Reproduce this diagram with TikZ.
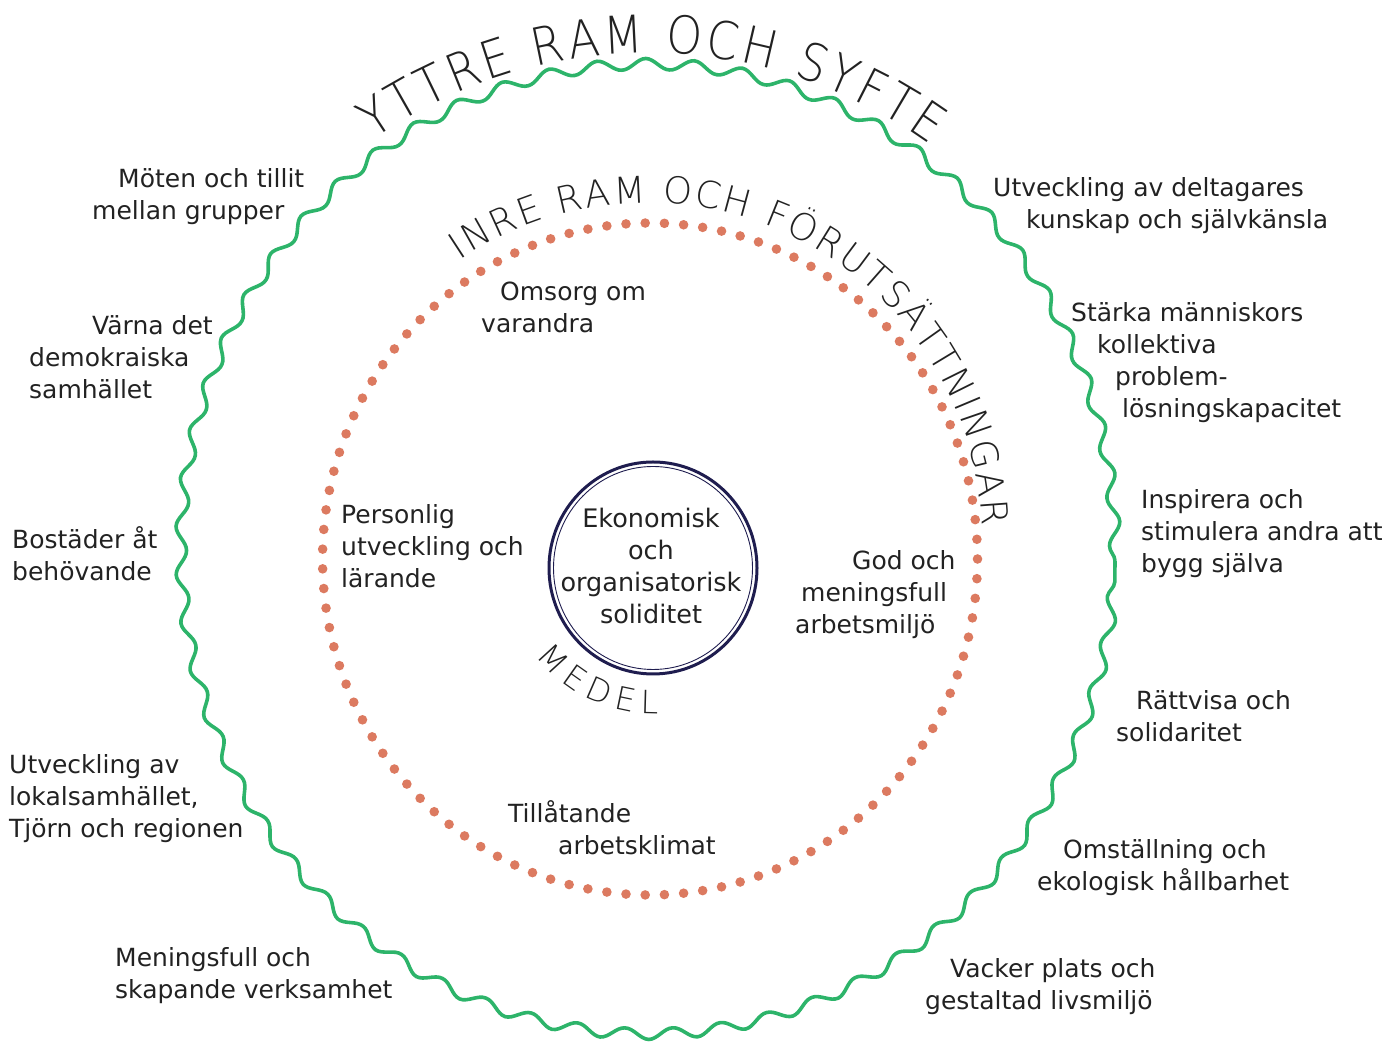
\documentclass[tikz,border=0pt]{standalone}
\usepackage{fontspec}
\setmainfont{DejaVu Sans}
\IfFontExistsTF{DejaVu Sans ExtraLight}{%
  \newfontfamily\thinfont{DejaVu Sans ExtraLight}%
  \newfontfamily\titlefont{DejaVu Sans ExtraLight}[FakeStretch=0.88]}{%
  \newfontfamily\thinfont{DejaVu Sans}%
  \newfontfamily\titlefont{DejaVu Sans}[FakeStretch=0.88]}
\usetikzlibrary{decorations.pathmorphing,decorations.text}
\definecolor{wavegreen}{HTML}{2DB46A}
\definecolor{dotorange}{HTML}{DC7A60}
\definecolor{navy}{HTML}{1F1D4F}
\definecolor{ink}{HTML}{222222}
\begin{document}
\begin{tikzpicture}[x=1pt,y=1pt,
  lbl/.style={anchor=base west, inner sep=0pt, text=ink, font=\fontsize{25}{32}\selectfont},
  clbl/.style={anchor=base, inner sep=0pt, text=ink, font=\fontsize{25.5}{32}\selectfont},
  arctext/.style={decorate, decoration={text along path, text color=ink, text align={fit to path}, text={#1}}}
]
\useasboundingbox (0,0) rectangle (1395,1043);
% outer wavy ring
\draw[wavegreen, line width=3.6pt, decorate, decoration={snake, segment length=48.2pt, amplitude=5.5pt}]
  (648,482) ellipse [x radius=467, y radius=485];
% dotted ring
\foreach \i in {0,...,106}
  \fill[dotorange] ({650+327.5*cos(\i*3.36449)},{484+336*sin(\i*3.36449)}) circle (4.8);
% centre double circle
\draw[navy, line width=3pt] (653,475) ellipse [x radius=104, y radius=106];
\draw[navy, line width=0.9pt] (653,475) ellipse [x radius=99.5, y radius=101.5];
% curved titles
\path[arctext={|\titlefont\fontsize{52}{52}\selectfont|YTTRE RAM OCH SYFTE}]
  (648,482) ++(124:491 and 508) arc[start angle=124, end angle=55, x radius=491, y radius=508];
\path[arctext={|\thinfont\fontsize{37}{37}\selectfont|INRE RAM OCH FÖRUTSÄTTNINGAR}]
  (647,505) ++(124:335) arc[start angle=124, end angle=2, radius=335];
\path[arctext={|\thinfont\fontsize{32}{32}\selectfont|MEDEL}]
  (653,475) ++(217:146) arc[start angle=217, end angle=272, radius=146];
% centre text
\node[clbl] (c1) at (651,515) {Ekonomisk};
\node[clbl] (c2) at (651,483) {och};
\node[clbl] (c3) at (651,451) {organisatorisk};
\node[clbl] (c4) at (651,419) {soliditet};
% left outer labels
\node[lbl] (l1a) at (118,855) {Möten och tillit};
\node[lbl] (l1b) at (92,823) {mellan grupper};
\node[lbl] (l2a) at (92,708) {Värna det};
\node[lbl] (l2b) at (29,676) {demokraiska};
\node[lbl] (l2c) at (29,644) {samhället};
\node[lbl] (l3a) at (12,494) {Bostäder åt};
\node[lbl] (l3b) at (12,462) {behövande};
\node[lbl] (l4a) at (9,269) {Utveckling av};
\node[lbl] (l4b) at (9,237) {lokalsamhället,};
\node[lbl] (l4c) at (9,205) {Tjörn och regionen};
\node[lbl] (l5a) at (115,76) {Meningsfull och};
\node[lbl] (l5b) at (115,44) {skapande verksamhet};
% right outer labels
\node[lbl] (r1a) at (993,846) {Utveckling av deltagares};
\node[lbl] (r1b) at (1026,814) {kunskap och självkänsla};
\node[lbl] (r2a) at (1071,721) {Stärka människors};
\node[lbl] (r2b) at (1097,689) {kollektiva};
\node[lbl] (r2c) at (1115,657) {problem-};
\node[lbl] (r2d) at (1122,625) {lösningskapacitet};
\node[lbl] (r3a) at (1141,534) {Inspirera och};
\node[lbl] (r3b) at (1141,502) {stimulera andra att};
\node[lbl] (r3c) at (1141,470) {bygg själva};
\node[lbl] (r4a) at (1136,333) {Rättvisa och};
\node[lbl] (r4b) at (1116,301) {solidaritet};
\node[lbl] (r5a) at (1063,184) {Omställning och};
\node[lbl] (r5b) at (1037,152) {ekologisk hållbarhet};
\node[lbl] (r6a) at (950,65) {Vacker plats och};
\node[lbl] (r6b) at (925,33) {gestaltad livsmiljö};
% inner ring labels
\node[lbl] (i1a) at (500,742) {Omsorg om};
\node[lbl] (i1b) at (481,710) {varandra};
\node[lbl] (i2a) at (341,519) {Personlig};
\node[lbl] (i2b) at (341,487) {utveckling och};
\node[lbl] (i2c) at (341,455) {lärande};
\node[lbl] (i3a) at (852,473) {God och};
\node[lbl] (i3b) at (801,441) {meningsfull};
\node[lbl] (i3c) at (795,409) {arbetsmiljö};
\node[lbl] (i4a) at (508,220) {Tillåtande};
\node[lbl] (i4b) at (558,188) {arbetsklimat};
\end{tikzpicture}
\end{document}
